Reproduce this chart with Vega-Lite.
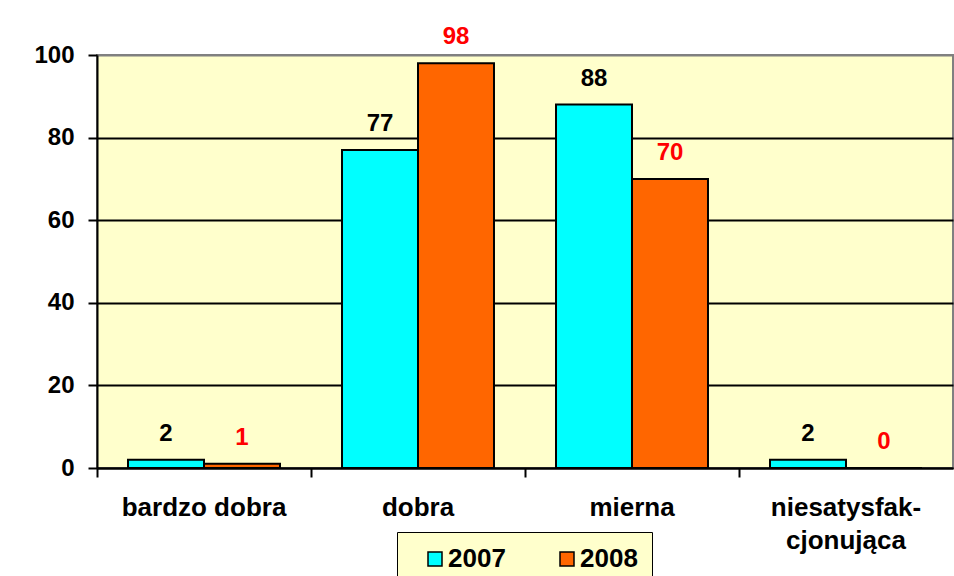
{
  "$schema": "https://vega.github.io/schema/vega-lite/v6.json",
  "width": 856,
  "height": 413,
  "autosize": {"type": "none"},
  "padding": {"left": 97, "top": 55, "right": 1, "bottom": 108},
  "background": "white",
  "config": {
    "view": {"fill": "#FFFFCC", "stroke": "#808080", "strokeWidth": 2},
    "font": "Liberation Sans"
  },
  "data": {
    "values": [
      {"ocena": "bardzo dobra", "rok": "2007", "liczba": 2},
      {"ocena": "bardzo dobra", "rok": "2008", "liczba": 1},
      {"ocena": "dobra", "rok": "2007", "liczba": 77},
      {"ocena": "dobra", "rok": "2008", "liczba": 98},
      {"ocena": "mierna", "rok": "2007", "liczba": 88},
      {"ocena": "mierna", "rok": "2008", "liczba": 70},
      {"ocena": "niesatysfakcjonująca", "rok": "2007", "liczba": 2},
      {"ocena": "niesatysfakcjonująca", "rok": "2008", "liczba": 0}
    ]
  },
  "encoding": {
    "x": {
      "field": "ocena",
      "type": "nominal",
      "sort": ["bardzo dobra", "dobra", "mierna", "niesatysfakcjonująca"],
      "scale": {"paddingInner": 0, "paddingOuter": 0},
      "axis": {
        "title": null,
        "bandPosition": 0,
        "grid": false,
        "domainColor": "black",
        "domainWidth": 2,
        "tickColor": "black",
        "tickWidth": 2,
        "tickSize": 9,
        "labelFontSize": 26,
        "labelFontWeight": "bold",
        "labelColor": "black",
        "labelPadding": 17,
        "labelLineHeight": 33,
        "labelAngle": 0,
        "labelLimit": 400,
        "labelExpr": "datum.label == 'niesatysfakcjonująca' ? ['niesatysfak-', 'cjonująca'] : datum.label"
      }
    },
    "xOffset": {
      "field": "rok",
      "type": "nominal",
      "scale": {"paddingInner": 0, "paddingOuter": 0.408}
    },
    "y": {
      "field": "liczba",
      "type": "quantitative",
      "scale": {"domain": [0, 100]},
      "axis": {
        "title": null,
        "values": [0, 20, 40, 60, 80, 100],
        "grid": true,
        "gridColor": {"condition": {"test": "datum.value === 100", "value": "#808080"}, "value": "black"},
        "gridWidth": 2,
        "domainColor": "black",
        "domainWidth": 2,
        "tickColor": "black",
        "tickWidth": 2,
        "tickSize": 9,
        "labelFontSize": 24,
        "labelFontWeight": "bold",
        "labelColor": "black",
        "labelPadding": 14
      }
    }
  },
  "layer": [
    {
      "mark": {"type": "bar", "stroke": "black", "strokeWidth": 2},
      "encoding": {
        "color": {
          "field": "rok",
          "type": "nominal",
          "scale": {"domain": ["2007", "2008"], "range": ["#00FFFF", "#FF6600"]},
          "legend": {
            "title": null,
            "orient": "none",
            "legendX": 300,
            "legendY": 477,
            "direction": "horizontal",
            "symbolType": "square",
            "symbolSize": 196,
            "symbolStrokeColor": "black",
            "symbolStrokeWidth": 1.5,
            "symbolOpacity": 1,
            "labelFontSize": 26,
            "labelFontWeight": "bold",
            "labelColor": "black",
            "strokeColor": "black",
            "fillColor": "#FFFFCC",
            "padding": 14,
            "symbolOffset": 11,
            "columnPadding": 37,
            "labelOffset": 0
          }
        }
      }
    },
    {
      "mark": {"type": "text", "baseline": "alphabetic", "dy": -19, "fontWeight": "bold", "fontSize": 24},
      "encoding": {
        "text": {"field": "liczba", "type": "quantitative"},
        "color": {"condition": {"test": "datum.rok === '2007'", "value": "black"}, "value": "#FF0000"}
      }
    }
  ]
}
